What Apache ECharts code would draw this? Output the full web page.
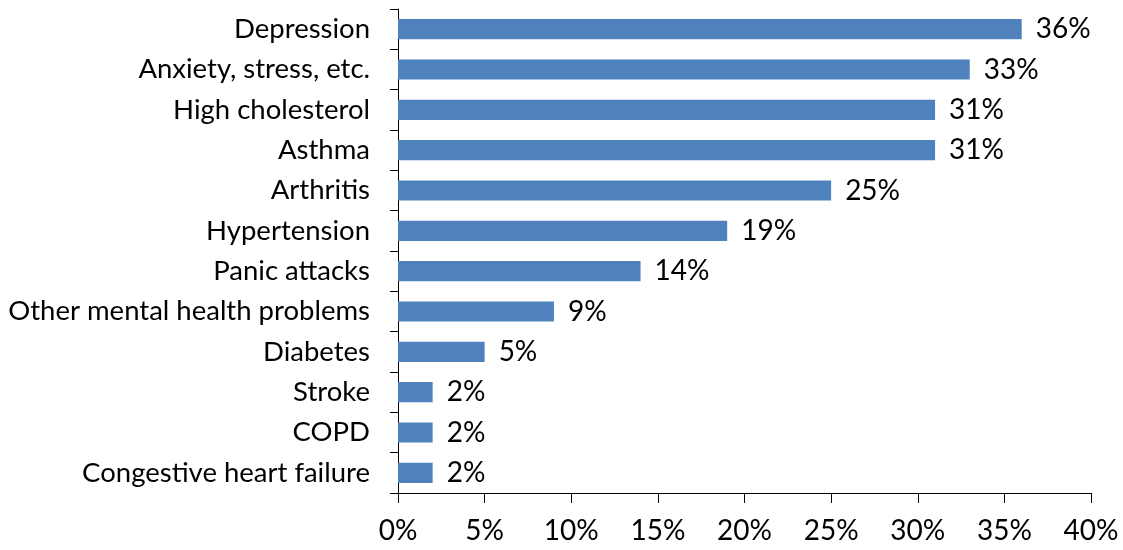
<!DOCTYPE html>
<html><head><meta charset="utf-8">
<script src="https://cdn.jsdelivr.net/npm/echarts@6/dist/echarts.min.js"></script>
<style>html,body{margin:0;padding:0;background:#fff}#c{width:1123px;height:550px}</style>
</head><body><div id="c"></div>
<script>
const categories = ["Depression","Anxiety, stress, etc.","High cholesterol","Asthma","Arthritis","Hypertension","Panic attacks","Other mental health problems","Diabetes","Stroke","COPD","Congestive heart failure"];
const values = [36,33,31,31,25,19,14,9,5,2,2,2];
const xTicks = [0,5,10,15,20,25,30,35,40];
const font = "Lato, 'Open Sans', sans-serif";
const chart = echarts.init(document.getElementById('c'));
chart.setOption({
  animation:false,
  grid:{left:398,right:32,top:9,bottom:57,containLabel:false},
  xAxis:{type:'value',min:xTicks[0],max:xTicks[xTicks.length-1],interval:5,
    axisLine:{show:true,lineStyle:{color:'#000',width:1}},
    axisTick:{show:true,length:10,lineStyle:{color:'#000'}},
    splitLine:{show:false},
    axisLabel:{formatter:'{value}%',fontSize:28,color:'#000',fontFamily:font,margin:24}},
  yAxis:{type:'category',data:categories.slice().reverse(),
    axisLine:{show:true,lineStyle:{color:'#000',width:1}},
    axisTick:{show:true,length:8,alignWithLabel:false,lineStyle:{color:'#000'}},
    axisLabel:{fontSize:27.5,color:'#000',fontFamily:font,margin:28}},
  series:[{type:'bar',data:values.slice().reverse(),barCategoryGap:'50%',
    itemStyle:{color:'#4F81BD'},
    label:{show:true,position:'right',distance:14,formatter:'{c}%',fontSize:28,color:'#000',fontFamily:font}}]
});
</script></body></html>
